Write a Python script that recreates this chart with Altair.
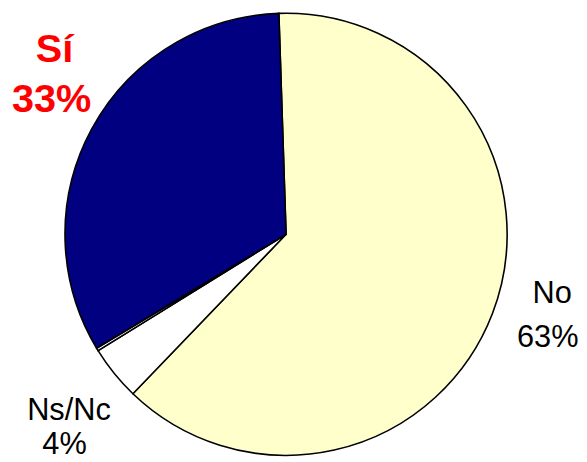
import altair as alt
import pandas as pd

categories = ["No", "Ns/Nc", "", "Sí"]
values = [62.7, 4.0, 0.2, 33.1]
colors = ["#FFFFCC", "#FFFFFF", "#FFFFFF", "#000080"]

df = pd.DataFrame({
    "cat": categories,
    "val": values,
    "ord": list(range(len(categories))),
})

start = -0.0326
two_pi = 6.283185307179586

arc = alt.Chart(df).mark_arc(
    outerRadius=223, stroke="black", strokeWidth=1.6
).encode(
    theta=alt.Theta("val:Q", stack=True,
                    scale=alt.Scale(range=[two_pi + start, 2 * two_pi + start])),
    color=alt.Color("cat:N", scale=alt.Scale(domain=categories, range=colors), legend=None),
    order=alt.Order("ord:Q"),
    x=alt.value(280.5),
    y=alt.value(225.3),
)

def label(txt, x, y, size, color="black", weight="normal"):
    return alt.Chart(pd.DataFrame({"t": [txt]})).mark_text(
        font="Liberation Sans", fontSize=size, fontWeight=weight, color=color,
        align="center", baseline="alphabetic"
    ).encode(text="t:N", x=alt.value(x), y=alt.value(y))

labels = [
    label("Sí", 47, 51, 40, "#FF0000", "bold"),
    label("33%", 44, 102, 40, "#FF0000", "bold"),
    label("No", 549, 295, 31),
    label("63%", 544.5, 339, 31),
    label("Ns/Nc", 61.5, 413, 31),
    label("4%", 57, 447, 31),
]

chart = alt.layer(arc, *labels).properties(
    width=571, height=446, padding=0
).configure_view(stroke=None)

chart.save("out.html", embed_options={"renderer": "svg", "actions": False})
